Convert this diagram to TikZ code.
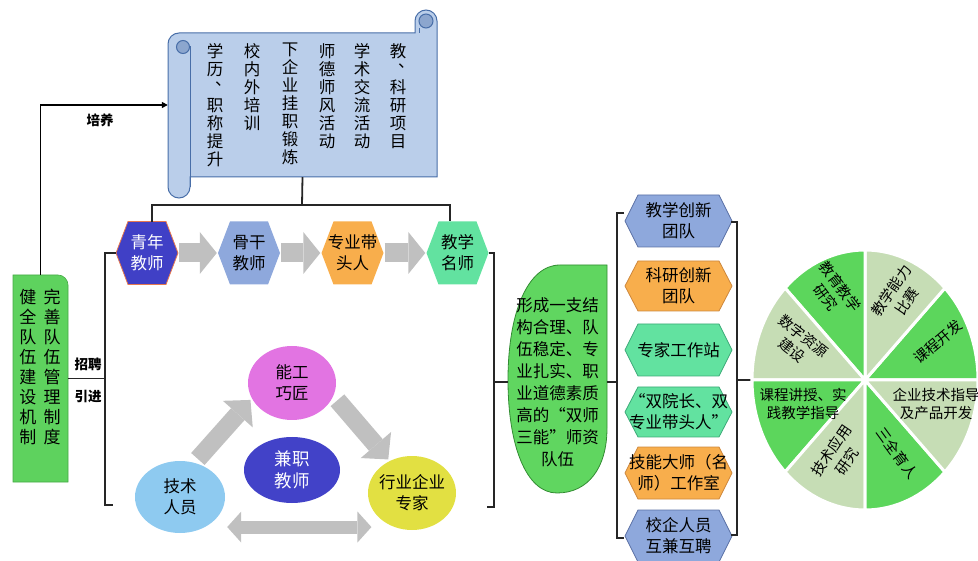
\documentclass[tikz,border=0pt]{standalone}
\usepackage{fontspec}
\setmainfont{Noto Sans CJK SC}
\usetikzlibrary{arrows.meta,shapes.geometric}
\definecolor{gbgreen}{RGB}{94,210,94}
\definecolor{gbedge}{RGB}{70,170,70}
\definecolor{scrollfill}{RGB}{186,206,234}
\definecolor{scrollline}{RGB}{72,110,168}
\definecolor{scrollcurl}{RGB}{140,166,206}
\definecolor{hexdark}{RGB}{64,64,198}
\definecolor{hexdarkedge}{RGB}{230,120,80}
\definecolor{hexblue}{RGB}{142,168,220}
\definecolor{hexblueedge}{RGB}{90,112,165}
\definecolor{hexorange}{RGB}{248,174,76}
\definecolor{hexorangeedge}{RGB}{205,135,60}
\definecolor{hexmint}{RGB}{98,226,160}
\definecolor{hexmintedge}{RGB}{60,170,120}
\definecolor{arrowgray}{RGB}{192,192,192}
\definecolor{ellmag}{RGB}{226,116,226}
\definecolor{elldark}{RGB}{66,66,200}
\definecolor{elllight}{RGB}{142,202,240}
\definecolor{ellyellow}{RGB}{226,224,66}
\definecolor{leafgreen}{RGB}{96,214,96}
\definecolor{leafedge}{RGB}{50,140,50}
\definecolor{piedark}{RGB}{92,214,92}
\definecolor{pielight}{RGB}{198,221,181}
\newcommand{\vdun}{\makebox[1em][l]{\hspace{0.5em}\raisebox{0.45em}{、}}}
% name, x, y, width, height, inset, path style, text, node style
\newcommand{\hexnode}[9]{%
  \path[#7] ({#2-#4/2},#3) -- ({#2-#4/2+#6},{#3-#5/2}) -- ({#2+#4/2-#6},{#3-#5/2}) -- ({#2+#4/2},#3) -- ({#2+#4/2-#6},{#3+#5/2}) -- ({#2-#4/2+#6},{#3+#5/2}) -- cycle;
  \node[lbl, minimum width=#4pt, minimum height=#5pt, #9] (#1) at (#2,#3) {#8};}
\begin{document}
\begin{tikzpicture}[x=1pt,y=-1pt,
  lbl/.style={align=center, inner sep=0pt, font=\fontsize{16.5}{21}\selectfont},
  vcol/.style={anchor=north, align=center, inner sep=0pt, font=\fontsize{16.5}{18}\selectfont},
  pietxt/.style={align=center, inner sep=0pt, font=\fontsize{14.5}{18.5}\selectfont},
  tag/.style={inner sep=0pt, font=\bfseries\fontsize{13.5}{16}\selectfont},
  brk/.style={draw=black!85, line width=1.8pt},
  chainarrow/.style={draw=arrowgray, line width=19pt, -{Triangle[line width=0pt,length=17pt,width=42pt]}},
  diagarrow/.style={draw=arrowgray, line width=18pt, -{Triangle[line width=0pt,length=19pt,width=40pt]}},
  duoarrow/.style={draw=arrowgray, line width=13pt, {Triangle[line width=0pt,length=14pt,width=31pt]}-{Triangle[line width=0pt,length=14pt,width=31pt]}},
  ell/.style={ellipse, inner sep=0pt, align=center, font=\fontsize{16.5}{21}\selectfont},
]
\useasboundingbox (0,0) rectangle (978,561);
\clip (0,0) rectangle (978,561);

% ---------- scroll ----------
\draw[scrollline, line width=1pt, fill=scrollfill] (179,33) arc[start angle=-90,end angle=-180,radius=11] -- (168,187) arc[start angle=180,end angle=0,radius=11] -- (190,177) -- (437,177) -- (437,21) arc[start angle=0,end angle=-180,radius=11] -- (415,33) -- cycle;
\draw[scrollline, line width=1pt] (190,46) -- (190,187);
\draw[scrollline, line width=1pt, fill=scrollcurl] (183,47) circle (6.5);
\draw[scrollline, line width=1pt, fill=scrollcurl] (426,21) circle (7);
\draw[scrollline, line width=1pt] (419,28) -- (419,33);
\node[inner sep=0pt, minimum width=269pt, minimum height=144pt] (scroll) at (302.5,105) {};
\node[vcol] (sc1) at (398,43) {教\\\vdun\\科\\研\\项\\目};
\node[vcol] (sc2) at (362,43) {学\\术\\交\\流\\活\\动};
\node[vcol] (sc3) at (327,43) {师\\德\\师\\风\\活\\动};
\node[vcol] (sc4) at (290,43) {下\\企\\业\\挂\\职\\锻\\炼};
\node[vcol] (sc5) at (252,43) {校\\内\\外\\培\\训};
\node[vcol] (sc6) at (215,43) {学\\历\\\vdun\\职\\称\\提\\升};

% ---------- left green box ----------
\draw[gbedge, fill=gbgreen, line width=0.6pt] (13,482) -- (13,275) -- (58,275) arc[start angle=-90,end angle=0,radius=10] -- (68,482) -- cycle;
\node[inner sep=0pt, minimum width=55pt, minimum height=207pt] (gb) at (40.5,378.5) {};
\node[vcol, font=\fontsize{17}{20}\selectfont] (gbl) at (28,289) {健\\全\\队\\伍\\建\\设\\机\\制};
\node[vcol, font=\fontsize{17}{20}\selectfont] (gbr) at (52,289) {完\\善\\队\\伍\\管\\理\\制\\度};
\node[tag] (t1) at (100,120) {培养};
\node[tag] (t2) at (88,364) {招聘};
\node[tag] (t3) at (88,397) {引进};
\draw[line width=1.8pt, -{Triangle[length=6pt,width=6pt]}] (gb.north) |- (scroll.west);

% ---------- chain ----------
\hexnode{qn}{147}{253}{62}{63}{12}{fill=hexdark, draw=hexdarkedge, line width=0.8pt}{青年\\教师}{text=white}
\hexnode{gg}{249}{253}{62}{63}{12}{fill=hexblue}{骨干\\教师}{}
\hexnode{zy}{352.5}{253}{62}{63}{12}{fill=hexorange}{专业带\\头人}{}
\hexnode{jm}{457.5}{253}{62}{63}{12}{fill=hexmint}{教学\\名师}{}
\draw[chainarrow, shorten <=1pt, shorten >=1pt] (qn.east) -- (gg.west);
\draw[chainarrow, shorten <=1pt, shorten >=1pt] (gg.east) -- (zy.west);
\draw[chainarrow, shorten <=1pt, shorten >=1pt] (zy.east) -- (jm.west);

% brace under scroll
\coordinate (brT) at (302,205);
\coordinate (brL) at (152,222);
\coordinate (brR) at (450,221);
\draw[brk] (brL) -- (brL |- brT) -- (brR |- brT) -- (brR);
\draw[brk] (brT) -- (scroll.south);

% left bracket
\coordinate (lbX) at (105,505);
\coordinate (lbB) at (113,505);
\draw[brk] (qn.west) -- (qn.west -| lbX) -- (lbX) -- (lbB);
\draw[brk] (gb.east) -- (gb.east -| lbX);

% ---------- part-time triangle ----------
\node[ell, fill=ellmag, minimum width=88pt, minimum height=74pt] (ng) at (292,383) {能工\\巧匠};
\node[ell, fill=elldark, text=white, minimum width=96pt, minimum height=66pt, font=\fontsize{17.5}{22}\selectfont] (jz) at (292,470) {兼职\\教师};
\node[ell, fill=elllight, minimum width=90pt, minimum height=72pt] (js) at (180,497) {技术\\人员};
\node[ell, fill=ellyellow, minimum width=88pt, minimum height=74pt, inner xsep=-4pt] (hy) at (412,493) {行业企业\\专家};
\draw[diagarrow, shorten <=5pt, shorten >=2pt] (js.67) -- (ng.201);
\draw[diagarrow, shorten <=6pt, shorten >=2pt] (ng.-17) -- (hy.125);
\draw[duoarrow, shorten <=22pt] (js.-50) -- (js.-50 -| hy.200);

% ---------- leaf ----------
\draw[leafedge, fill=leafgreen, line width=0.8pt] (607,265) -- (607,428) .. controls (607,468) and (588,493) .. (557,493) .. controls (526,493) and (508,445) .. (508,380) .. controls (508,312) and (528,265) .. (560,265) -- cycle;
\node[lbl, font=\fontsize{16.5}{22}\selectfont, minimum width=99pt, minimum height=228pt] (leaf) at (557.5,382) {形成一支结\\构合理、队\\伍稳定、专\\业扎实、职\\业道德素质\\高的“双师\\三能”师资\\队伍};

\coordinate (rbX) at (494,507);
\coordinate (rbB) at (487,507);
\draw[brk] (jm.east) -- (jm.east -| rbX) -- (rbX) -- (rbB);
\draw[brk] (leaf.west -| rbX) -- (leaf.west);

% ---------- right column ----------
\hexnode{h1}{678.5}{221}{107}{52}{13}{fill=hexblue, draw=hexblueedge, line width=0.8pt}{教学创新\\团队}{}
\hexnode{h2}{678.5}{286}{107}{50}{13}{fill=hexorange, draw=hexorangeedge, line width=0.8pt}{科研创新\\团队}{}
\hexnode{h3}{678.5}{350}{107}{52}{13}{fill=hexmint, draw=hexmintedge, line width=0.8pt}{专家工作站}{}
\hexnode{h4}{678.5}{412}{107}{50}{13}{fill=hexmint, draw=hexmintedge, line width=0.8pt}{“双院长、双\\专业带头人”}{}
\hexnode{h5}{678.5}{473}{107}{52}{13}{fill=hexorange, draw=hexorangeedge, line width=0.8pt}{技能大师（名\\师）工作室}{}
\hexnode{h6}{678.5}{536}{107}{52}{13}{fill=hexblue, draw=hexblueedge, line width=0.8pt}{校企人员\\互兼互聘}{}

\coordinate (b2T) at (617,213);
\coordinate (b2B) at (617,538);
\coordinate (b2Tt) at (624,213);
\coordinate (b2Bt) at (624,538);
\draw[brk] (b2Tt) -- (b2T) -- (b2B) -- (b2Bt);
\draw[brk] (leaf.east) -- (leaf.east -| b2T);

\coordinate (b3T) at (737,222);
\coordinate (b3B) at (737,535);
\coordinate (b3Tt) at (731,222);
\coordinate (b3Bt) at (731,535);
\draw[brk] (b3Tt) -- (b3T) -- (b3B) -- (b3Bt);

% ---------- pie ----------
\coordinate (pie) at (865,380);
\coordinate (pieW) at (752,380);
\draw[brk] (pieW -| b3T) -- (pieW);
\foreach \s/\c in {0/piedark,45/pielight,90/piedark,135/pielight,180/piedark,225/pielight,270/piedark,315/pielight}
  \fill[\c, draw=white, line width=3pt] (pie) -- ++(-\s:113 and 130) arc[start angle=-\s, end angle=-\s-45, x radius=113, y radius=130] -- cycle;
\fill[white] (pie) circle (4);
\node[pietxt, rotate=-53] (p1) at (833,292) {教育教学\\研究};
\node[pietxt, rotate=56] (p2) at (899,296) {教学能力\\比赛};
\node[pietxt, rotate=40] (p3) at (938,342) {课程开发};
\node[pietxt, rotate=-38] (p4) at (798,343) {数字资源\\建设};
\node[pietxt] (p5) at (803,404) {课程讲授、实\\践教学指导};
\node[pietxt] (p6) at (936,404) {企业技术指导\\及产品开发};
\node[pietxt, rotate=56] (p7) at (839,456) {技术应用\\研究};
\node[pietxt, rotate=-54] (p8) at (897,453) {三全育人};
\end{tikzpicture}
\end{document}
